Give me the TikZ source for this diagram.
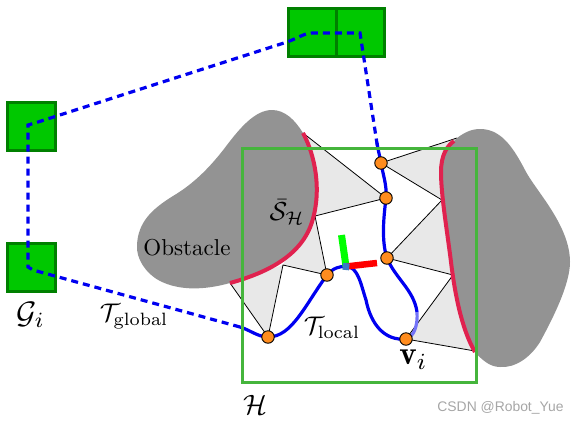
\documentclass[tikz,border=0pt]{standalone}
\usepackage{fontspec}
\newfontfamily\wmfont{Liberation Sans}
\definecolor{boxfill}{HTML}{00C800}
\definecolor{boxline}{HTML}{008000}
\definecolor{obst}{HTML}{939393}
\definecolor{cellgray}{HTML}{E8E8E8}
\definecolor{redarc}{HTML}{E0224F}
\definecolor{trajblue}{HTML}{0000F0}
\definecolor{framegreen}{HTML}{45B53C}
\definecolor{wayorange}{HTML}{FF8C1E}
\definecolor{axisblue}{HTML}{3A78C8}
\definecolor{wmgray}{HTML}{A6A6A6}
\tikzset{
  goalbox/.style={draw=boxline,fill=boxfill,line width=3pt,minimum width=48pt,minimum height=48pt,inner sep=0pt},
  obstacle/.style={fill=obst},
  cell/.style={fill=cellgray},
  cellline/.style={draw=black,line width=0.8pt},
  redline/.style={draw=redarc,line width=4pt},
  traj/.style={draw=trajblue,line width=3.2pt},
  trajdash/.style={traj,dash pattern=on 7pt off 5pt},
  frameline/.style={draw=framegreen,line width=3pt},
  waypoint/.style={circle,draw=black,fill=wayorange,line width=0.9pt,minimum size=12.5pt,inner sep=0pt},
  lbl/.style={inner sep=0pt,text=black}
}
\begin{document}
\begin{tikzpicture}[x=1pt,y=-1pt]
\useasboundingbox (0,0) rectangle (578,424);
% vertices
\coordinate (c1) at (303,133);
\coordinate (c2) at (315,216);
\coordinate (c3) at (283,265);
\coordinate (c4) at (230,283);
\coordinate (d1) at (457,138);
\coordinate (d2) at (442,200);
\coordinate (d3) at (453,275);
\coordinate (d4) at (475,351);
\coordinate (w1) at (268,337);
\coordinate (w2) at (327,275);
\coordinate (w3) at (381,163);
\coordinate (w4) at (386,198);
\coordinate (w5) at (387,258);
\coordinate (w6) at (406,339);
\coordinate (fr) at (346,266.5);
\coordinate (gl1) at (28,267);
\coordinate (gl2) at (28,125);
\coordinate (tr1) at (360,33);
\coordinate (tstart) at (240,327);
\coordinate (tend) at (377,143);
% goal boxes
\node[goalbox] (g1) at (31,267) {};
\node[goalbox] (g2) at (31,126.5) {};
\node[goalbox] (g3) at (312,32.5) {};
\node[goalbox] (g4) at (360,32.5) {};
% free cells
\fill[cell] (c1) -- (w4) -- (c2) -- cycle;
\fill[cell] (c2) -- (w2) -- (c3) -- (300,230) -- cycle;
\fill[cell] (c3) -- (w1) -- (c4) -- cycle;
\fill[cell] (w3) -- (d1) -- (d2) -- cycle;
\fill[cell] (w5) -- (d2) -- (d3) -- cycle;
\fill[cell] (w6) -- (d3) -- (d4) -- cycle;
% cell edges
\draw[cellline] (c1) -- (w4) -- (c2) -- (w2) -- (c3) -- (w1) -- (c4);
\draw[cellline] (d1) -- (w3) -- (d2) -- (w5) -- (d3) -- (w6) -- (d4);
% obstacles
\fill[obstacle] (303,133) .. controls (315,155) and (322,190) .. (312,222)
  .. controls (302,254) and (270,272) .. (230,283)
  .. controls (205,290) and (180,291) .. (160,281)
  .. controls (145,273) and (136,258) .. (137,245)
  .. controls (138,222) and (152,209) .. (173,196)
  .. controls (195,183) and (212,165) .. (227,145)
  .. controls (240,128) and (255,110) .. (272,110)
  .. controls (285,110) and (295,120) .. (303,133) -- cycle;
\fill[obstacle] (454,141) .. controls (447,146) and (441,155) .. (441,172)
  .. controls (441,195) and (447,230) .. (451,262)
  .. controls (455,295) and (462,330) .. (475,352)
  .. controls (482,360) and (490,367) .. (500,367)
  .. controls (515,368) and (530,358) .. (540,342)
  .. controls (552,320) and (570,285) .. (570,262)
  .. controls (570,225) and (535,190) .. (525,170)
  .. controls (512,145) and (500,129) .. (480,129)
  .. controls (472,129) and (465,132) .. (457,138) -- cycle;
% inflated boundary
\draw[redline] (303,133) .. controls (315,155) and (322,190) .. (312,222)
  .. controls (302,254) and (270,272) .. (230,283);
\draw[redline] (454,141) .. controls (447,146) and (441,155) .. (441,172)
  .. controls (441,195) and (447,230) .. (451,262)
  .. controls (455,295) and (462,330) .. (475,352);
% global trajectory
\draw[trajdash] (tstart) -- (33,270) -- (gl1) -- (gl2) -- (35,123) -- (287,42) .. controls (298,38) and (305,33) .. (312,33) -- (tr1) -- (378,150);
% local trajectory
\draw[traj] (tstart) .. controls (250,330) and (258,337) .. (w1)
  .. controls (292,337) and (305,305) .. (w2)
  .. controls (333,268) and (340,266) .. (fr)
  .. controls (358,266) and (361,285) .. (366,300)
  .. controls (371,325) and (385,341) .. (w6);
\draw[traj] (417,312) .. controls (414,290) and (395,278) .. (w5)
  .. controls (381,240) and (384,215) .. (w4)
  .. controls (387,185) and (383,175) .. (w3)
  .. controls (380,157) and (378,150) .. (tend);
\draw[traj,draw=trajblue!55] (w6) .. controls (414,337) and (418,325) .. (417,312);
% local frame
\draw[frameline] (242,148) rectangle (476,382);
% body axes
\coordinate (axr) at (377,263);
\coordinate (axg) at (341.5,235);
\draw[draw=green,line width=7pt] (fr) -- (axg);
\draw[draw=red,line width=6.5pt] (fr) -- (axr);
\fill[fill=axisblue,rotate around={-6:(fr)}] (342.7,263.2) rectangle (349.3,270);
% waypoints
\node[waypoint] (n1) at (w1) {};
\node[waypoint] (n2) at (w2) {};
\node[waypoint] (n3) at (w3) {};
\node[waypoint] (n4) at (w4) {};
\node[waypoint] (n5) at (w5) {};
\node[waypoint] (n6) at (w6) {};
% labels
\node[lbl] (tobst) at (187,248) {\scalebox{2.3}{Obstacle}};
\node[lbl] (tsh) at (287,212) {\scalebox{2.6}{$\bar{\mathcal{S}}_{\mathcal{H}}$}};
\node[lbl] (tgi) at (30.5,315) {\scalebox{3.1}{$\mathcal{G}_i$}};
\node[lbl] (tglob) at (134,317) {\scalebox{2.55}{$\mathcal{T}_{\mathrm{global}}$}};
\node[lbl] (tloc) at (332,328) {\scalebox{2.55}{$\mathcal{T}_{\mathrm{local}}$}};
\node[lbl] (th) at (255,405) {\scalebox{2.8}{$\mathcal{H}$}};
\node[lbl] (tv) at (413.5,360) {\scalebox{3.3}{$\mathbf{v}_i$}};
\node[lbl,text=wmgray,font=\wmfont\fontsize{13.9}{16}\selectfont] (wm) at (500.5,408) {CSDN @Robot\_Yue};
\end{tikzpicture}
\end{document}
